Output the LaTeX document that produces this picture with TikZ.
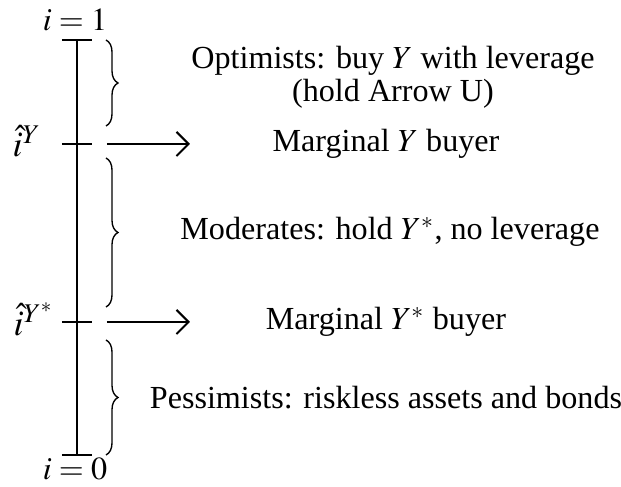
\documentclass[tikz,border=0pt]{standalone}
\usepackage{amsmath}
\usepackage{mathptmx}
\usepackage[no-math]{fontspec}
\setmainfont{Liberation Serif}
\usepackage{tikz}
\usetikzlibrary{arrows.meta, decorations.pathreplacing}

\begin{document}
\begin{tikzpicture}[x=0.0117cm, y=-0.0117cm,
		every node/.style={font=\fontsize{10.7}{11}\selectfont},
		lvl/.style={font=\fontsize{12}{12}\selectfont},
		tick/.style={line width=0.55pt},
		brc/.style={decorate, decoration={brace, amplitude=4pt}, line width=0.45pt},
		marg/.style={-{Straight Barb[length=4pt]}, line width=0.7pt}]
		\useasboundingbox (0,0) rectangle (621,487);

		% Axis
		\coordinate (top) at (77,41);
		\coordinate (bot) at (77,455);
		\draw[line width=0.9pt] (top) -- (bot);
		\draw[tick] (62,40) -- (92,40);
		\draw[tick] (62,455) -- (92,455);
		\draw[tick] (62,144) -- (92,144);
		\draw[tick] (62,322) -- (92,322);

		\node (i1) at (75,20) {$i=1$};
		\node (i0) at (75,469) {$i=0$};
		\node[lvl] (iY) at (27,141) {$\hat{i}^{Y}$};
		\node[lvl] (iYs) at (34,319) {$\hat{i}^{Y^*}$};

		% Braces
		\draw[brc] (106,40) -- (106,126);
		\draw[brc] (106,158) -- (106,307);
		\draw[brc] (106,340) -- (106,455);

		% Marginal buyers
		\coordinate (a1) at (107,144);
		\coordinate (b1) at (190,144);
		\coordinate (a2) at (107,322);
		\coordinate (b2) at (190,322);
		\draw[marg] (a1) -- (b1);
		\draw[marg] (a2) -- (b2);

		% Groups
		\node[align=center] (opt) at (393,77) {Optimists: buy $Y$ with leverage\\(hold Arrow U)};
		\node (mY) at (386,144) {Marginal $Y$ buyer};
		\node (mod) at (390,232) {Moderates: hold $Y^*$, no leverage};
		\node (mYs) at (386,322) {Marginal $Y^*$ buyer};
		\node (pes) at (386,398) {Pessimists: riskless assets and bonds};
	\end{tikzpicture}
\end{document}
